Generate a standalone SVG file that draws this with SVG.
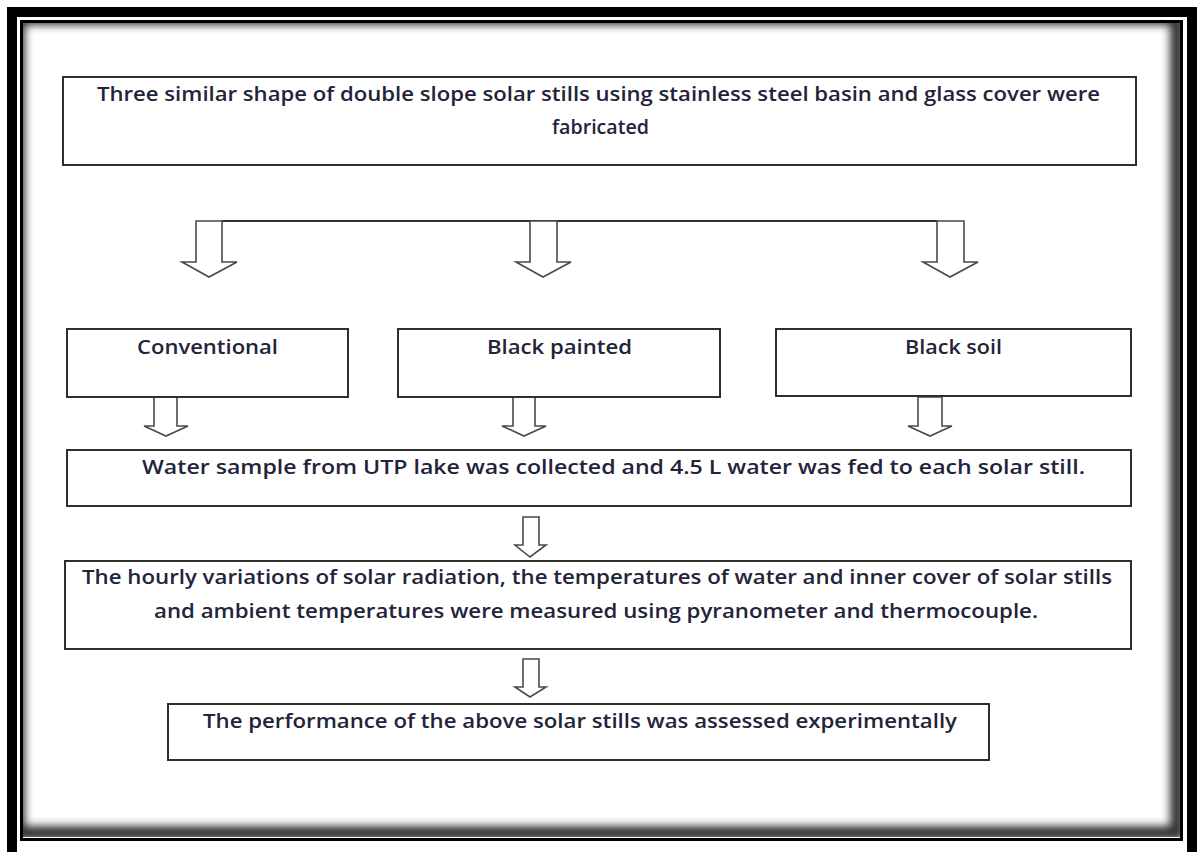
<svg xmlns="http://www.w3.org/2000/svg" width="1203" height="852" viewBox="0 0 1203 852">
<style>
.box{fill:#fff;stroke:#2e2e2e;stroke-width:2}
.arr{fill:#fff;stroke:#4a4a4a;stroke-width:1.6;stroke-linejoin:miter}
.t{font-family:"Open Sans","Liberation Sans",sans-serif;font-size:19px;font-weight:600;fill:#23233a}
</style>
<defs>
<filter id="blur" x="-5%" y="-5%" width="110%" height="110%"><feGaussianBlur stdDeviation="4"/></filter>
<clipPath id="inner"><rect x="23" y="23" width="1157" height="814"/></clipPath>
</defs>
<rect x="0" y="0" width="1203" height="852" fill="#fff"/>
<g id="frame">
<rect x="12" y="12" width="1180" height="845" fill="none" stroke="#000" stroke-width="10"/>
<g clip-path="url(#inner)">
<rect x="18" y="18" width="1159" height="815" fill="none" stroke="#333" stroke-width="14" filter="url(#blur)"/>
</g>
<rect x="21.5" y="21.5" width="1160" height="818" fill="none" stroke="#000" stroke-width="3"/>
</g>
<g id="connectors">
<line x1="222" y1="221" x2="937" y2="221" stroke="#333" stroke-width="2"/>
<polygon class="arr" points="196,221 222,221 222,262 237,262 209,277 182,262 196,262"/>
<polygon class="arr" points="530,221 557,221 557,262 571,262 543,277 516,262 530,262"/>
<polygon class="arr" points="937,221 964,221 964,262 978,262 950,277 923,262 937,262"/>
<polygon class="arr" points="154,397 177,397 177,426 188,426 166,436 144,426 154,426"/>
<polygon class="arr" points="513,397 535,397 535,426 546,426 524,436 502,426 513,426"/>
<polygon class="arr" points="918,397 942,397 942,426 952,426 930,436 908,426 918,426"/>
<polygon class="arr" points="523,517 539,517 539,545 546,545 530,557 515,545 523,545"/>
<polygon class="arr" points="523,659 539,659 539,687 546,687 530,697 515,687 523,687"/>
</g>
<g id="n1">
<rect class="box" x="63" y="77" width="1073" height="88"/>
<text class="t" x="97" y="101" textLength="1003" lengthAdjust="spacingAndGlyphs">Three similar shape of double slope solar stills using stainless steel basin and glass cover were</text>
<text class="t" x="552" y="134" textLength="97" lengthAdjust="spacingAndGlyphs">fabricated</text>
</g>
<g id="n2">
<rect class="box" x="67" y="329" width="281" height="68"/>
<text class="t" x="137" y="354" textLength="141" lengthAdjust="spacingAndGlyphs">Conventional</text>
</g>
<g id="n3">
<rect class="box" x="398" y="329" width="322" height="68"/>
<text class="t" x="487" y="354" textLength="145" lengthAdjust="spacingAndGlyphs">Black painted</text>
</g>
<g id="n4">
<rect class="box" x="776" y="329" width="355" height="67"/>
<text class="t" x="905" y="354" textLength="97" lengthAdjust="spacingAndGlyphs">Black soil</text>
</g>
<g id="n5">
<rect class="box" x="67" y="450" width="1064" height="56"/>
<text class="t" x="142" y="474" textLength="943" lengthAdjust="spacingAndGlyphs">Water sample from UTP lake was collected and 4.5 L water was fed to each solar still.</text>
</g>
<g id="n6">
<rect class="box" x="65" y="561" width="1066" height="88"/>
<text class="t" x="82" y="584" textLength="1030" lengthAdjust="spacingAndGlyphs">The hourly variations of solar radiation, the temperatures of water and inner cover of solar stills</text>
<text class="t" x="154" y="618" textLength="884" lengthAdjust="spacingAndGlyphs">and ambient temperatures were measured using pyranometer and thermocouple.</text>
</g>
<g id="n7">
<rect class="box" x="168" y="704" width="821" height="56"/>
<text class="t" x="203" y="728" textLength="754" lengthAdjust="spacingAndGlyphs">The performance of the above solar stills was assessed experimentally</text>
</g>
</svg>
